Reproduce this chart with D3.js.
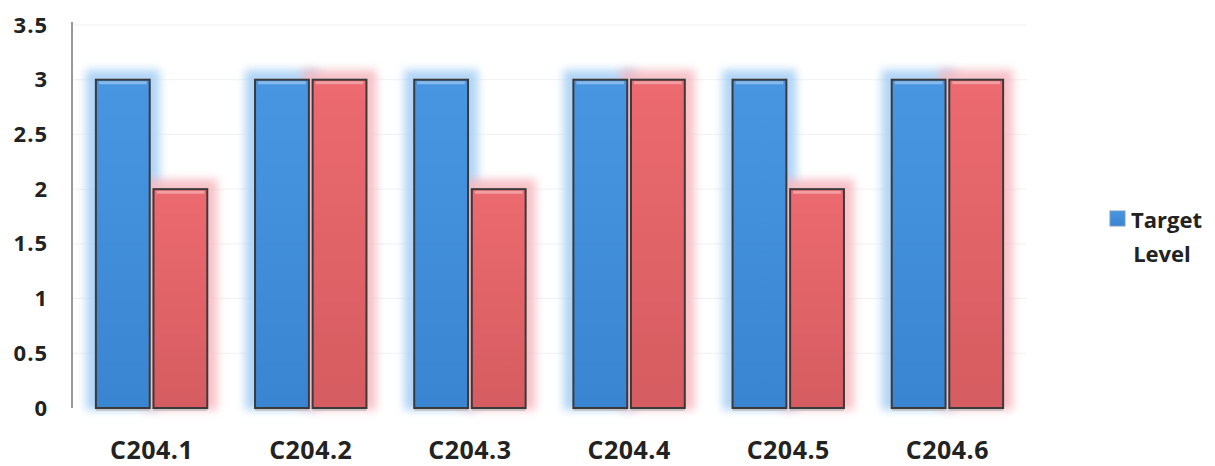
<!DOCTYPE html>
<html><head><meta charset="utf-8">
<script src="https://cdn.jsdelivr.net/npm/d3@7"></script>
<style>html,body{margin:0;padding:0;background:#fff;} svg{display:block;}</style>
</head><body>
<svg id="chart" width="1215" height="466"></svg>
<script>
const categories = ["C204.1","C204.2","C204.3","C204.4","C204.5","C204.6"];
const targetLevel = [3,3,3,3,3,3];
const attainedLevel = [2,3,2,3,2,3];
const yTicks = [0,0.5,1,1.5,2,2.5,3,3.5];
const yTickLabels = ["0","0.5","1","1.5","2","2.5","3","3.5"];
const legendLabel = ["Target","Level"];

const svg = d3.select("#chart");
const font = "'Open Sans', 'DejaVu Sans', sans-serif";
const x = d3.scaleBand().domain(categories).range([72,1027]).paddingInner(0.3).paddingOuter(0.15);
const y = d3.scaleLinear().domain([0,3.5]).range([408,25]);
const inner = d3.scaleBand().domain(["t","a"]).range([0,x.bandwidth()]).paddingInner(0.065);

const defs = svg.append("defs");
const glow = defs.append("filter").attr("id","glow").attr("x","-50%").attr("y","-50%").attr("width","200%").attr("height","200%");
glow.append("feGaussianBlur").attr("stdDeviation",4.5);
const gB = defs.append("linearGradient").attr("id","gBlue").attr("x1",0).attr("x2",0).attr("y1",0).attr("y2",1);
gB.append("stop").attr("offset",0).attr("stop-color","#4896e2");
gB.append("stop").attr("offset",1).attr("stop-color","#3a85d2");
const gR = defs.append("linearGradient").attr("id","gRed").attr("x1",0).attr("x2",0).attr("y1",0).attr("y2",1);
gR.append("stop").attr("offset",0).attr("stop-color","#ec6a70");
gR.append("stop").attr("offset",1).attr("stop-color","#d55c60");

// faint gridlines
svg.append("g").selectAll("line").data(yTicks.slice(1)).join("line")
  .attr("x1",72).attr("x2",1027).attr("y1",d=>y(d)).attr("y2",d=>y(d))
  .attr("stroke","#f1f1f1").attr("stroke-width",1);

// y-axis
const yAxis = d3.axisLeft(y).tickValues(yTicks).tickFormat((d,i)=>yTickLabels[i]).tickSize(0).tickPadding(24);
const ya = svg.append("g").attr("transform","translate(72,0)").call(yAxis);
ya.select(".domain").attr("stroke","#777").attr("stroke-width",1.5).attr("d","M0,"+(y(3.5)-3)+"V"+y(0));
ya.selectAll("text").attr("font-family",font).attr("font-weight","bold").attr("font-size",22)
  .attr("letter-spacing","1px").attr("fill","#222").attr("text-anchor","end");

const series = [
  {key:"t", values:targetLevel, fill:"url(#gBlue)", halo:"#a9d0f5"},
  {key:"a", values:attainedLevel, fill:"url(#gRed)", halo:"#f6bcc3"}
];
const barsG = svg.append("g");
series.forEach(s=>{
  barsG.append("g").selectAll("rect").data(categories).join("rect")
    .attr("x",(d)=>x(d)+inner(s.key)-10).attr("width",inner.bandwidth()+20)
    .attr("y",(d,i)=>y(s.values[i])-10).attr("height",(d,i)=>y(0)-y(s.values[i])+12)
    .attr("fill",s.halo).attr("filter","url(#glow)").attr("opacity",0.9);
});
series.forEach(s=>{
  const g = barsG.append("g");
  g.selectAll("rect").data(categories).join("rect")
    .attr("x",(d)=>x(d)+inner(s.key)).attr("width",inner.bandwidth())
    .attr("y",(d,i)=>y(s.values[i])).attr("height",(d,i)=>y(0)-y(s.values[i]))
    .attr("fill",s.fill).attr("stroke","#3a3a3a").attr("stroke-width",2);
  g.selectAll("line.hl").data(categories).join("line").attr("class","hl")
    .attr("x1",(d)=>x(d)+inner(s.key)+3).attr("x2",(d)=>x(d)+inner(s.key)+inner.bandwidth()-3)
    .attr("y1",(d,i)=>y(s.values[i])+3).attr("y2",(d,i)=>y(s.values[i])+3)
    .attr("stroke","#ffffff").attr("stroke-opacity",0.35).attr("stroke-width",3);
  g.selectAll("line.base").data(categories).join("line").attr("class","base")
    .attr("x1",(d)=>x(d)+inner(s.key)).attr("x2",(d)=>x(d)+inner(s.key)+inner.bandwidth())
    .attr("y1",y(0)+2).attr("y2",y(0)+2).attr("stroke","#bbb").attr("stroke-width",1.5);
});

// x-axis labels
const xAxis = d3.axisBottom(x).tickSize(0).tickPadding(33);
const xa = svg.append("g").attr("transform","translate(0,408)").call(xAxis);
xa.select(".domain").remove();
xa.selectAll("text").attr("font-family",font).attr("font-weight","bold").attr("font-size",25)
  .attr("letter-spacing","0.5px").attr("fill","#222");

// legend
const lg = svg.append("g");
lg.append("rect").attr("x",1110).attr("y",211).attr("width",15).attr("height",15)
  .attr("fill","url(#gBlue)").attr("stroke","#7a9cc0").attr("stroke-width",1);
lg.append("text").attr("x",1131).attr("y",228).text(legendLabel[0])
  .attr("font-family",font).attr("font-weight","bold").attr("font-size",22).attr("fill","#222");
lg.append("text").attr("x",1162).attr("y",262).attr("text-anchor","middle").text(legendLabel[1])
  .attr("font-family",font).attr("font-weight","bold").attr("font-size",22).attr("fill","#222");
</script>
</body></html>
